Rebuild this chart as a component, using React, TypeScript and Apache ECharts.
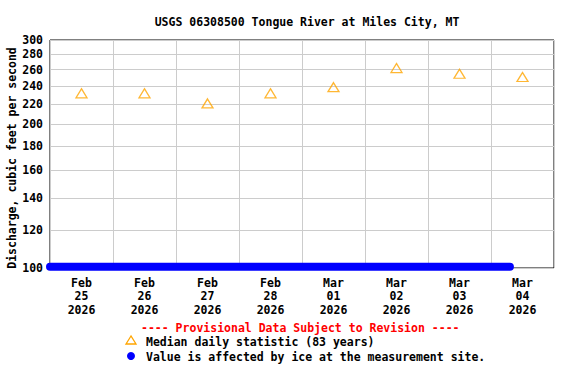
import React, { useEffect, useRef } from "react";
import * as echarts from "echarts";

const title = "USGS 06308500 Tongue River at Miles City, MT";
const yAxisName = "Discharge, cubic feet per second";
const categories = ["Feb\n25\n2026", "Feb\n26\n2026", "Feb\n27\n2026", "Feb\n28\n2026", "Mar\n01\n2026", "Mar\n02\n2026", "Mar\n03\n2026", "Mar\n04\n2026"];
const medianValues = [232, 232, 221, 232, 239, 262, 255, 251];
const yTicks = [100, 120, 140, 160, 180, 200, 220, 240, 260, 280, 300];
// ice-affected record: start and end (in days from Feb 25 00:00) at bottom of scale
const iceX = [0, 7.3];
const iceValue = 100.6;
const provisionalText = "---- Provisional Data Subject to Revision ----";
const legendMedian = "Median daily statistic (83 years)";
const legendIce = "Value is affected by ice at the measurement site.";

const FONT = "'DejaVu Sans Mono', 'Liberation Mono', monospace";

export default function App() {
  const ref = useRef<HTMLDivElement>(null);
  useEffect(() => {
    if (!ref.current) return;
    const chart = echarts.init(ref.current, null, { renderer: "svg" });
    const txt = { fontFamily: FONT, fontWeight: "bold" as const, fontSize: 11.5 };
    chart.setOption({
      animation: false,
      backgroundColor: "#ffffff",
      title: {
        text: title,
        left: 302,
        textAlign: "center",
        top: 11,
        textStyle: { ...txt, color: "#000" },
      },
      grid: {
        left: 50,
        top: 40,
        right: 22,
        bottom: 116,
        containLabel: false,
        outerBoundsMode: "none",
        show: true,
        borderColor: "#000",
        borderWidth: 1,
        backgroundColor: "transparent",
      },
      xAxis: [
        {
          type: "category",
          data: categories,
          boundaryGap: true,
          axisLine: { show: false },
          axisTick: { show: false },
          splitLine: { show: true, interval: 0, lineStyle: { color: "#cccccc", width: 1 } },
          axisLabel: { ...txt, color: "#000", interval: 0, lineHeight: 13.5, margin: 8 },
        },
        {
          type: "value",
          min: 0,
          max: 8,
          show: false,
        },
      ],
      yAxis: {
        type: "log",
        logBase: 10,
        min: 100,
        max: 300,
        axisLine: { show: false },
        axisTick: { show: false, customValues: yTicks },
        axisLabel: { ...txt, color: "#000", margin: 7, customValues: yTicks },
        splitLine: { show: true, lineStyle: { color: "#cccccc", width: 1 } },
      },
      series: [
        {
          type: "line",
          xAxisIndex: 1,
          data: iceX.map((x) => [x, iceValue]),
          symbol: "none",
          clip: false,
          lineStyle: { color: "#0000ff", width: 8, cap: "round" },
          z: 5,
        },
        {
          type: "scatter",
          xAxisIndex: 0,
          data: medianValues,
          symbol: "triangle",
          symbolSize: [11, 9],
          itemStyle: { color: "rgba(0,0,0,0)", borderColor: "#ffa500", borderWidth: 1.3 },
          z: 6,
        },
      ],
      graphic: [
        {
          type: "text",
          x: 12,
          y: 158,
          rotation: Math.PI / 2,
          style: { text: yAxisName, ...txt, fill: "#000", align: "center", verticalAlign: "middle" },
        },
        {
          type: "text",
          left: 302 - 161,
          top: 322,
          style: { text: provisionalText, ...txt, fill: "#ff0000" },
        },
        {
          type: "polygon",
          shape: { points: [[131, 336], [126, 344], [136, 344]] },
          style: { fill: "none", stroke: "#ffa500", lineWidth: 1.3 },
        },
        {
          type: "text",
          left: 146,
          top: 336,
          style: { text: legendMedian, ...txt, fill: "#000" },
        },
        {
          type: "circle",
          shape: { cx: 131, cy: 356, r: 4 },
          style: { fill: "#0000ff" },
        },
        {
          type: "text",
          left: 146,
          top: 351,
          style: { text: legendIce, ...txt, fill: "#000" },
        },
      ],
    });
    return () => chart.dispose();
  }, []);
  return <div ref={ref} style={{ width: 576, height: 384, position: "absolute", left: 0, top: 0 }} />;
}
